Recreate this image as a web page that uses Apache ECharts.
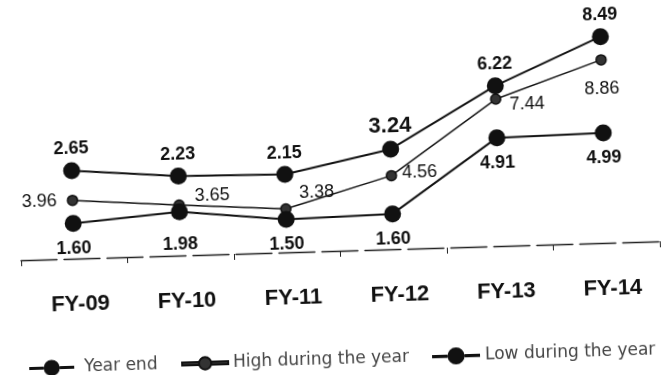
<!DOCTYPE html>
<html>
<head>
<meta charset="utf-8">
<script src="https://cdn.jsdelivr.net/npm/echarts@6/dist/echarts.min.js"></script>
<style>
  html, body { margin: 0; padding: 0; background: #fff; overflow: hidden; }
  #chart { width: 664px; height: 375px; transform: rotate(-1.7deg); transform-origin: 332px 187.5px; }
</style>
</head>
<body>
<div id="chart"></div>
<script>
const categories = ['FY-09', 'FY-10', 'FY-11', 'FY-12', 'FY-13', 'FY-14'];
const yearEnd = [2.65, 2.23, 2.15, 3.24, 6.22, 8.49];
const highDuringYear = [3.96, 3.65, 3.38, 4.56, 7.44, 8.86];
const lowDuringYear = [1.60, 1.98, 1.50, 1.60, 4.91, 4.99];
const seriesNames = ['Year end', 'High during the year', 'Low during the year'];

const ink = '#111';
const fmt = p => Number(p.value).toFixed(2);

// per-point label placement (style only)
const yearEndLabelStyle = [{}, {}, {}, { fontSize: 22 }, {}, {}];
const highLabelStyle = [
  { position: 'left', distance: 10 },
  { position: 'right', distance: 10, offset: [0, -9] },
  { position: 'right', distance: 8, offset: [0, -15] },
  { position: 'right', distance: 5, offset: [0, -2] },
  { position: 'right', distance: 8, offset: [0, 6] },
  { position: 'bottom', distance: 14 }
];
const lowLabelStyle = [{}, { distance: 15 }, {}, {}, {}, {}];

// legend icons: line with a marker in the middle
const bigIcon = 'path://M0,7.5 L14.5,7.5 L14.5,10.5 L0,10.5 Z M30.5,7.5 L45,7.5 L45,10.5 L30.5,10.5 Z M14.5,9 A8,8 0 1,1 30.5,9 A8,8 0 1,1 14.5,9 Z';
const smallIcon = 'path://M0,7.5 L16.5,7.5 L16.5,10.5 L0,10.5 Z M28.5,7.5 L45,7.5 L45,10.5 L28.5,10.5 Z M16.5,9 A6,6 0 1,1 28.5,9 A6,6 0 1,1 16.5,9 Z';

const chart = echarts.init(document.getElementById('chart'), null, { renderer: 'canvas' });

const legendText = { fontFamily: 'DejaVu Sans', fontSize: 17, color: '#444' };
const legendBase = {
  orient: 'horizontal',
  top: 346,
  itemHeight: 18,
  textStyle: legendText
};

chart.setOption({
  animation: false,
  backgroundColor: '#fff',
  grid: { left: 19, right: 6, top: 20, bottom: 124, containLabel: false },
  legend: [
    Object.assign({}, legendBase, { data: [{ name: seriesNames[0], icon: bigIcon }], left: 19, itemWidth: 45,
      textStyle: Object.assign({}, legendText, { padding: [0, 0, 0, 5] }) }),
    Object.assign({}, legendBase, { data: [{ name: seriesNames[1], icon: smallIcon }], left: 171, itemWidth: 46 }),
    Object.assign({}, legendBase, { data: [{ name: seriesNames[2], icon: bigIcon }], left: 422, itemWidth: 48 })
  ],
  xAxis: {
    type: 'category',
    data: categories,
    boundaryGap: true,
    axisLine: { onZero: false, lineStyle: { color: '#222', width: 1.3, type: [36, 7] } },
    axisTick: { show: true, length: 6, lineStyle: { color: '#222' } },
    axisLabel: {
      margin: 35,
      fontFamily: 'Liberation Sans',
      fontWeight: 'bold',
      fontSize: 22,
      color: ink,
      padding: [0, 0, 0, 10]
    }
  },
  yAxis: [
    { type: 'value', show: false, min: -1.7, max: 9.71, splitLine: { show: false } },
    { type: 'value', show: false, min: 1.67, max: 10.74, splitLine: { show: false } },
    { type: 'value', show: false, min: 0, max: 10.47, splitLine: { show: false } }
  ],
  series: [
    {
      name: seriesNames[0],
      type: 'line',
      yAxisIndex: 0,
      z: 4,
      data: yearEnd.map((v, i) => ({ value: v, label: yearEndLabelStyle[i] })),
      symbol: 'circle',
      symbolSize: 17,
      itemStyle: { color: ink },
      lineStyle: { color: ink, width: 2 },
      label: {
        show: true, position: 'top', distance: 4, formatter: fmt,
        fontFamily: 'Liberation Sans', fontWeight: 'bold', fontSize: 18, color: ink
      }
    },
    {
      name: seriesNames[1],
      type: 'line',
      yAxisIndex: 1,
      z: 3,
      data: highDuringYear.map((v, i) => ({ value: v, label: highLabelStyle[i] })),
      symbol: 'circle',
      symbolSize: 10,
      itemStyle: { color: '#333', borderColor: ink, borderWidth: 1.5 },
      lineStyle: { color: ink, width: 1.5 },
      label: {
        show: true, formatter: fmt,
        fontFamily: 'Liberation Sans', fontSize: 18, color: ink
      }
    },
    {
      name: seriesNames[2],
      type: 'line',
      yAxisIndex: 2,
      z: 3,
      data: lowDuringYear.map((v, i) => ({ value: v, label: lowLabelStyle[i] })),
      symbol: 'circle',
      symbolSize: 17,
      itemStyle: { color: ink },
      lineStyle: { color: ink, width: 2 },
      label: {
        show: true, position: 'bottom', distance: 8, formatter: fmt,
        fontFamily: 'Liberation Sans', fontWeight: 'bold', fontSize: 18, color: ink
      }
    }
  ]
});
</script>
</body>
</html>
